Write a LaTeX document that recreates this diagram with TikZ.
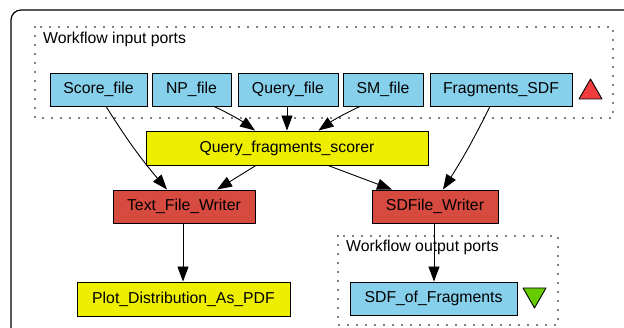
\documentclass[tikz,border=0pt]{standalone}
\usepackage{fontspec}
\setmainfont{Liberation Sans}
\usetikzlibrary{arrows.meta,calc}
\definecolor{portblue}{RGB}{135,208,236}
\definecolor{procyellow}{RGB}{238,238,0}
\definecolor{procred}{RGB}{214,74,64}
\definecolor{trired}{RGB}{240,60,60}
\definecolor{trigreen}{RGB}{102,204,0}
\tikzset{
  box/.style={draw=black, line width=0.9pt, inner sep=0pt, font=\fontsize{15.8}{17}\selectfont},
  port/.style={box, fill=portblue},
  yproc/.style={box, fill=procyellow},
  rproc/.style={box, fill=procred},
  cluster/.style={draw=black, line width=1.6pt, dash pattern=on 0pt off 9pt, line cap=round},
  flow/.style={draw=black, line width=0.9pt, -{Triangle[length=15pt,width=11pt]}},
  lbl/.style={anchor=base west, inner sep=0pt, font=\fontsize{15.8}{17}\selectfont},
  tri/.style={draw=black, line width=0.9pt, line join=round}
}
\begin{document}
\begin{tikzpicture}[x=1pt,y=-1pt]
\useasboundingbox (0,0) rectangle (624,328);
% outer frame
\draw[line width=1.2pt, rounded corners=10pt] (11,345) -- (11,10) -- (640,10);
% clusters
\draw[cluster] (35,27) rectangle (613,118);
\draw[cluster] (338,236) rectangle (558,325);
\node[lbl] (inlbl) at (43,44) {Workflow input ports};
\node[lbl] (outlbl) at (346,252) {Workflow output ports};
% input ports
\node[port, minimum width=97pt, minimum height=33pt] (score) at (98.5,89.5) {Score\_file};
\node[port, minimum width=79pt, minimum height=33pt] (np) at (191.5,89.5) {NP\_file};
\node[port, minimum width=100pt, minimum height=33pt] (query) at (288,89.5) {Query\_file};
\node[port, minimum width=80pt, minimum height=33pt] (sm) at (383,89.5) {SM\_file};
\node[port, minimum width=142pt, minimum height=33pt] (frag) at (501,89.5) {Fragments\_SDF};
% processors
\node[yproc, minimum width=282pt, minimum height=34pt] (scorer) at (287,148) {Query\_fragments\_scorer};
\node[rproc, minimum width=142pt, minimum height=33pt] (tfw) at (184,206.5) {Text\_File\_Writer};
\node[rproc, minimum width=126pt, minimum height=33pt] (sdfw) at (435,206.5) {SDFile\_Writer};
\node[yproc, minimum width=213pt, minimum height=34pt] (plot) at (183.5,299) {Plot\_Distribution\_As\_PDF};
% output port
\node[port, minimum width=167pt, minimum height=33pt] (sdfout) at (433.5,298.5) {SDF\_of\_Fragments};
% triangles
\draw[tri, fill=trired] (579,99) -- (602,99) -- (590.5,79) -- cycle;
\draw[tri, fill=trigreen] (523,288) -- (546,288) -- (534.5,308) -- cycle;
% edges
\draw[flow] ($(score.south)+(7.5,0)$) to[bend right=4] ($(tfw.north)+(-17,0)$);
\draw[flow] ($(np.south)+(22.5,0)$) to[bend left=5] ($(scorer.north)+(-32,0)$);
\draw[flow] ($(query.south)+(-1,0)$) -- ($(scorer.north)+(0,0)$);
\draw[flow] ($(sm.south)+(-23,0)$) to[bend right=5] ($(scorer.north)+(31.5,0)$);
\draw[flow] ($(frag.south)+(-11,0)$) to[bend left=3] ($(sdfw.north)+(8,0)$);
\draw[flow] ($(scorer.south)+(-31,0)$) -- ($(tfw.north)+(33,0)$);
\draw[flow] ($(scorer.south)+(41,0)$) -- ($(sdfw.north)+(-43,0)$);
\draw[flow] ($(tfw.south)+(-1,0)$) -- ($(plot.north)+(-0.5,0)$);
\draw[flow] ($(sdfw.south)+(-1,0)$) -- ($(sdfout.north)+(0.5,0)$);
\end{tikzpicture}
\end{document}
